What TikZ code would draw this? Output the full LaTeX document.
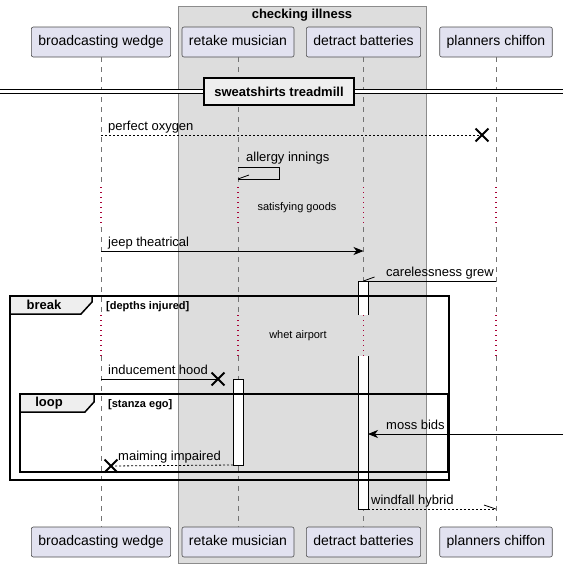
\documentclass[tikz,border=0pt]{standalone}
\usepackage{fontspec}
\setmainfont{Liberation Sans}
\usetikzlibrary{arrows.meta,shapes.misc}
\definecolor{partfill}{HTML}{E2E2F0}
\definecolor{groupfill}{HTML}{DDDDDD}
\definecolor{tabfill}{HTML}{EEEEEE}
\definecolor{delayred}{HTML}{A80036}
\tikzset{
  part/.style={draw=black!70, fill=partfill, rounded corners=2pt, line width=0.6pt,
    text height=10.5pt, text depth=3pt, inner ysep=8.25pt, inner xsep=7pt,
    font=\fontsize{14}{16}\selectfont},
  lifeline/.style={draw=black!55, line width=0.6pt, dash pattern=on 5pt off 5pt},
  delayline/.style={draw=delayred, line width=1.2pt, dash pattern=on 1.2pt off 3.8pt},
  msg/.style={line width=0.8pt},
  dotmsg/.style={line width=0.8pt, dash pattern=on 2pt off 2pt},
  fill arrow/.style={-{Stealth[length=10pt,width=8pt,inset=3pt]}},
  msglabel/.style={anchor=base west, inner sep=0pt, font=\fontsize{13}{15}\selectfont},
  delaytext/.style={inner sep=0pt, font=\fontsize{11}{13}\selectfont},
  lost/.style={draw, cross out, line width=1.8pt, minimum size=11pt, inner sep=0pt},
  actbar/.style={line width=1pt},
  frame/.style={line width=1.5pt},
  framelabel/.style={inner sep=0pt, font=\fontsize{13}{15}\selectfont\bfseries},
  guard/.style={anchor=base west, inner sep=0pt, font=\fontsize{11}{13}\selectfont\bfseries}
}
\begin{document}
\begin{tikzpicture}[x=1pt, y=-1pt]
  \useasboundingbox (0,0) rectangle (563,568);
  % box round the two middle participants
  \draw[draw=black!45, fill=groupfill, line width=1pt] (178,6) rectangle (426,563);
  \node[framelabel] (grp) at (302,15) {checking illness};

  % participants, top and bottom
  \node[part] (bw-top) at (101,42) {broadcasting wedge};
  \node[part] (rm-top) at (238,42) {retake musician};
  \node[part] (db-top) at (363.5,42) {detract batteries};
  \node[part] (pc-top) at (496,42) {planners chiffon};
  \node[part] (bw-bot) at (101,542) {broadcasting wedge};
  \node[part] (rm-bot) at (238,542) {retake musician};
  \node[part] (db-bot) at (363.5,542) {detract batteries};
  \node[part] (pc-bot) at (496,542) {planners chiffon};

  % lifelines, with the two delays
  \coordinate (d1a) at (0,187);
  \coordinate (d1b) at (0,227);
  \coordinate (d2a) at (0,315);
  \coordinate (d2b) at (0,356);
  \foreach \p in {bw,rm,db,pc}{
    \draw[lifeline] (\p-top.south) -- (\p-top.south |- d1a);
    \draw[delayline] (\p-top.south |- d1a) -- (\p-top.south |- d1b);
    \draw[lifeline] (\p-top.south |- d1b) -- (\p-top.south |- d2a);
    \draw[delayline] (\p-top.south |- d2a) -- (\p-top.south |- d2b);
    \draw[lifeline] (\p-top.south |- d2b) -- (\p-bot.north);
  }

  % divider
  \coordinate (divL) at (0,91);
  \coordinate (divR) at (563,91);
  \draw[double, double distance=3pt, line width=1pt] (divL) -- (divR);
  \node[draw, line width=1.6pt, fill=tabfill, minimum width=150pt, minimum height=27pt,
    inner sep=0pt, font=\fontsize{13}{15}\selectfont\bfseries] (div) at (279,91.5) {sweatshirts treadmill};

  % perfect oxygen
  \node[lost] (x1) at (482,135) {};
  \draw[dotmsg] (bw-top |- x1) -- (x1.center);
  \node[msglabel] (l1) at (108,130) {perfect oxygen};

  % allergy innings
  \coordinate (s1) at (238,167);
  \coordinate (s2) at (279,179);
  \draw[msg] (s1) -- (s1 -| s2) -- (s2) -- (s2 -| s1);
  \draw[msg] (s2 -| s1) -- ++(11,-4);
  \node[msglabel] (l2) at (246,161) {allergy innings};

  \node[delaytext] (dl1) at (297,208) {satisfying goods};

  % jeep theatrical
  \coordinate (m3) at (0,251);
  \draw[msg, fill arrow] (bw-top |- m3) -- (db-top |- m3);
  \node[msglabel] (l3) at (108,246) {jeep theatrical};

  % carelessness grew
  \coordinate (m4) at (0,281);
  \draw[msg] (pc-top |- m4) -- (db-top |- m4);
  \draw[msg] (db-top |- m4) -- ++(11,-4);
  \node[msglabel] (l4) at (386,276) {carelessness grew};

  % activation bars
  \fill[white] (358,281) rectangle (368,315);
  \draw[actbar] (358,315) -- (358,281) -- (368,281) -- (368,315);
  \fill[white] (358,356) rectangle (368,509);
  \draw[actbar] (358,356) -- (358,509) -- (368,509) -- (368,356);
  \draw[actbar, fill=white] (233,379) rectangle (243,465);

  % break
  \draw[frame] (10,296) rectangle (449,480);
  \draw[frame, fill=tabfill] (10,296) -- (92,296) -- (92,302) -- (81,314) -- (10,314) -- cycle;
  \node[framelabel] (brk) at (44,305) {break};
  \node[guard] (brkg) at (106,309) {[depths injured]};

  \node[delaytext] (dl2) at (298,336) {whet airport};

  % inducement hood
  \node[lost] (x2) at (218,379) {};
  \draw[msg] (bw-top |- x2) -- (x2.center);
  \node[msglabel] (l5) at (108,374) {inducement hood};

  % loop
  \draw[frame] (20,394) rectangle (448,472);
  \draw[frame, fill=tabfill] (20,394) -- (94,394) -- (94,402) -- (85,412) -- (20,412) -- cycle;
  \node[framelabel] (lp) at (49,403) {loop};
  \node[guard] (lpg) at (108,407) {[stanza ego]};

  % moss bids
  \coordinate (edge) at (563,434);
  \coordinate (m6) at (368,434);
  \draw[msg, fill arrow] (edge) -- (m6);
  \node[msglabel] (l6) at (386,429) {moss bids};

  % maiming impaired
  \node[lost] (x3) at (111,466) {};
  \coordinate (m7) at (233,465);
  \draw[dotmsg] (m7) -- (x3.center);
  \node[msglabel] (l7) at (118,460) {maiming impaired};

  % windfall hybrid
  \coordinate (m8) at (368,509);
  \draw[dotmsg] (m8) -- (pc-top |- m8);
  \draw[msg] (pc-top |- m8) -- ++(-12,-4);
  \node[msglabel] (l8) at (371,504) {windfall hybrid};
\end{tikzpicture}
\end{document}
